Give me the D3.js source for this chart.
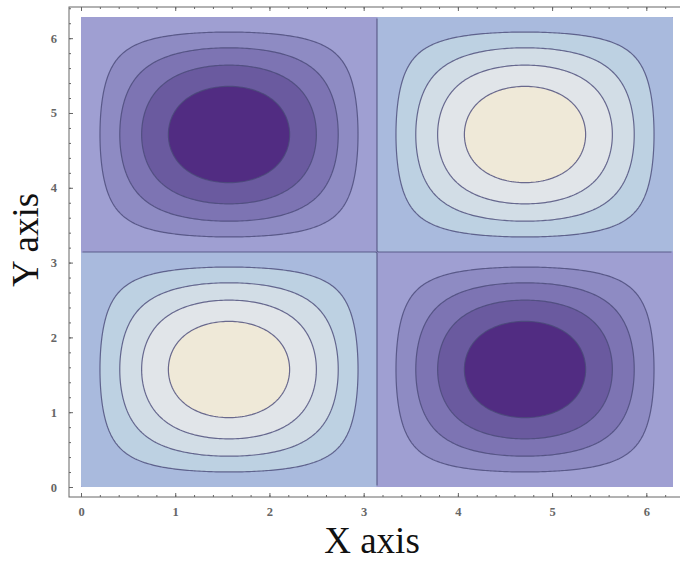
<!DOCTYPE html>
<html>
<head>
<meta charset="utf-8">
<script src="https://cdn.jsdelivr.net/npm/d3@7"></script>
<style>
  body { margin: 0; background: #fff; }
  .tick text { font-family: "Liberation Serif", "DejaVu Serif", serif; font-weight: bold; font-size: 12.5px; fill: #666; }
  .axis path, .axis line { stroke: #666; }
</style>
</head>
<body>
<svg id="canvas" width="680" height="561"></svg>
<script>
// contour levels of f(x,y) = sin(x) sin(y), and band colours (low -> high)
let levels = [-0.8, -0.6, -0.4, -0.2, 0, 0.2, 0.4, 0.6, 0.8];
let bandColors = [
  '#512c82', '#6a5a9f', '#7d74b3', '#8e8bc3', '#9f9fd2',
  '#a9badd', '#bdd1e2', '#d2dde6', '#e1e5e9', '#efe9d8'
];
let xTicks = [0, 1, 2, 3, 4, 5, 6];
let yTicks = [0, 1, 2, 3, 4, 5, 6];
let xDomain = [0, 2 * Math.PI], yDomain = [0, 2 * Math.PI];
let surface = (x, y) => Math.sin(x) * Math.sin(y);

let canvas = d3.select('#canvas');
let plot = { left: 81, right: 673, top: 17, bottom: 487 };
let frame = { left: 69, right: 690, top: 7, bottom: 497 };

let xScale = d3.scaleLinear().domain(xDomain).range([plot.left, plot.right]);
let yScale = d3.scaleLinear().domain(yDomain).range([plot.bottom, plot.top]);

// sample grid slightly past the domain so edges get clipped away
let n = 260, pad = 0.15;
let gx0 = xDomain[0] - pad, gx1 = xDomain[1] + pad;
let gy0 = yDomain[0] - pad, gy1 = yDomain[1] + pad;
let values = new Array(n * n);
for (let j = 0; j < n; j++) {
  for (let i = 0; i < n; i++) {
    let x = gx0 + (i + 0.5) / n * (gx1 - gx0);
    let y = gy0 + (j + 0.5) / n * (gy1 - gy0);
    values[i + j * n] = surface(x, y);
  }
}

let thresholds = [-2].concat(levels);
let contours = d3.contours().size([n, n]).thresholds(thresholds)(values);

let proj = d3.geoTransform({
  point: function (gx, gy) {
    this.stream.point(
      xScale(gx0 + gx / n * (gx1 - gx0)),
      yScale(gy0 + gy / n * (gy1 - gy0))
    );
  }
});
let path = d3.geoPath(proj);

let defs = canvas.append('defs');
defs.append('clipPath').attr('id', 'clipFill')
  .append('rect')
  .attr('x', plot.left).attr('y', plot.top)
  .attr('width', plot.right - plot.left).attr('height', plot.bottom - plot.top);
defs.append('clipPath').attr('id', 'clipLine')
  .append('rect')
  .attr('x', plot.left + 1.5).attr('y', plot.top + 1.5)
  .attr('width', plot.right - plot.left - 3).attr('height', plot.bottom - plot.top - 3);

canvas.append('g')
  .attr('clip-path', 'url(#clipFill)')
  .selectAll('path')
  .data(contours)
  .enter()
  .append('path')
  .attr('d', path)
  .attr('fill', (d, i) => bandColors[i]);

canvas.append('g')
  .attr('clip-path', 'url(#clipLine)')
  .selectAll('path')
  .data(contours.slice(1))
  .enter()
  .append('path')
  .attr('d', path)
  .attr('fill', 'none')
  .attr('stroke', '#4a4a78')
  .attr('stroke-opacity', 0.8)
  .attr('stroke-width', 1.2);

// frame axes (Mathematica style: ticks point inward)
let minor = d3.range(0, 6.41, 0.2);
let fx = d3.scaleLinear().domain(xDomain).range([plot.left, plot.right]);

let bottomMinor = d3.axisBottom(fx).tickValues(minor).tickSize(-2).tickFormat('');
let bottomMajor = d3.axisBottom(fx).tickValues(xTicks).tickSize(-4).tickPadding(10).tickFormat(d3.format('d'));
let topMinor = d3.axisTop(fx).tickValues(minor).tickSize(-2).tickFormat('');
let topMajor = d3.axisTop(fx).tickValues(xTicks).tickSize(-4).tickFormat('');
let leftMinor = d3.axisLeft(yScale).tickValues(minor).tickSize(-2).tickFormat('');
let leftMajor = d3.axisLeft(yScale).tickValues(yTicks).tickSize(-4).tickPadding(12).tickFormat(d3.format('d'));

function frameAxis(axis, tx, ty) {
  let g = canvas.append('g').attr('class', 'axis').attr('transform', 'translate(' + tx + ',' + ty + ')').call(axis);
  g.select('.domain').remove();
  return g;
}
frameAxis(bottomMinor, 0, frame.bottom);
frameAxis(bottomMajor, 0, frame.bottom);
frameAxis(topMinor, 0, frame.top);
frameAxis(topMajor, 0, frame.top);
frameAxis(leftMinor, frame.left, 0);
frameAxis(leftMajor, frame.left, 0);

canvas.append('rect')
  .attr('x', frame.left).attr('y', frame.top)
  .attr('width', frame.right - frame.left).attr('height', frame.bottom - frame.top)
  .attr('fill', 'none').attr('stroke', '#666').attr('stroke-width', 1);

canvas.append('text')
  .attr('x', 372).attr('y', 553)
  .attr('text-anchor', 'middle')
  .attr('font-family', '"Liberation Serif", serif')
  .attr('font-size', 37)
  .attr('fill', '#111')
  .text('X axis');

canvas.append('text')
  .attr('transform', 'translate(38,240) rotate(-90)')
  .attr('text-anchor', 'middle')
  .attr('font-family', '"Liberation Serif", serif')
  .attr('font-size', 37)
  .attr('fill', '#111')
  .text('Y axis');
</script>
</body>
</html>
